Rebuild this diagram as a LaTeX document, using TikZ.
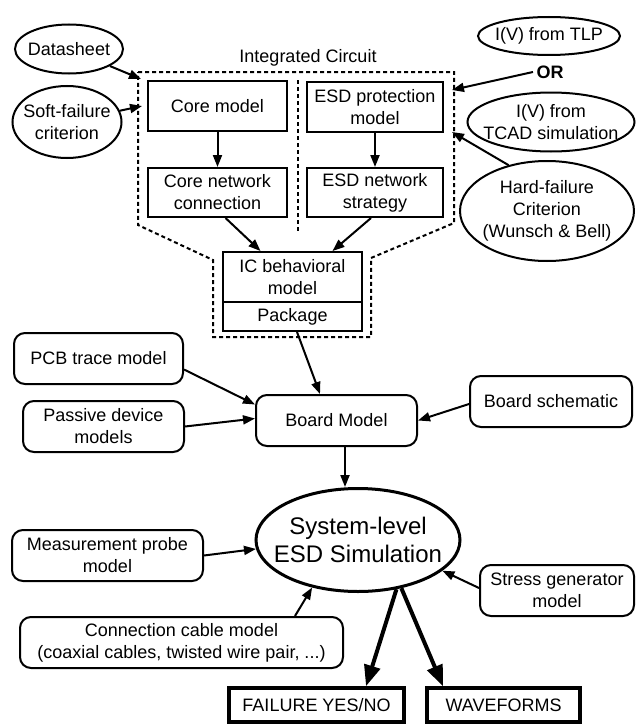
\documentclass[tikz,border=0pt]{standalone}
\usepackage{fontspec}
\setmainfont{Liberation Sans}
\usetikzlibrary{arrows.meta, shapes.geometric}

\begin{document}
\begin{tikzpicture}[x=1pt, y=-1pt,
  every node/.style = {font=\fontsize{18}{22}\selectfont, align=center},
  blk/.style = {draw, line width=2pt, inner sep=0pt},
  rblk/.style = {blk, rounded corners=11pt},
  oblk/.style = {draw, ellipse, line width=2pt, inner xsep=-18pt, inner ysep=-4pt},
  res/.style = {draw, line width=3.5pt, inner sep=0pt, minimum height=34pt},
  arr/.style = {-{Triangle[length=12pt, width=9pt]}, line width=2pt},
  bigarr/.style = {-{Triangle[length=21pt, width=16pt]}, line width=4pt},
  icline/.style = {line width=2pt, dash pattern=on 4pt off 3pt}]
\useasboundingbox (0,0) rectangle (637,725);

% integrated circuit
\node (iclabel) at (308,58) {Integrated Circuit};
\draw[icline] (138,72) -- (454,72) -- (454,223) -- (371,258) -- (371,337)
  -- (213,337) -- (213,260) -- (138,225) -- cycle;
\draw[icline] (298,80) -- (298,233);
\node[blk, minimum width=139pt, minimum height=50pt] (coremodel) at (217.5,106) {Core model};
\node[blk, minimum width=139pt, minimum height=49pt] (corenet) at (217.5,192.5) {Core network\\connection};
\node[blk, minimum width=136pt, minimum height=50pt] (esdprot) at (375,107) {ESD protection\\model};
\node[blk, minimum width=136pt, minimum height=49pt] (esdnet) at (375,192.5) {ESD network\\strategy};
\node[blk, minimum width=139pt, minimum height=50pt] (icmodel) at (292.5,277) {IC behavioral\\model};
\node[blk, minimum width=139pt, minimum height=29pt] (package) at (292.5,316.5) {Package};
\coordinate (icin1) at (141,79);
\coordinate (icin2) at (142,106);
\coordinate (icin3) at (452,90);
\coordinate (icin4) at (452,132);

% inputs of the IC
\node[oblk, minimum width=108pt, minimum height=49pt] (datasheet) at (69,49) {Datasheet};
\node[oblk, minimum width=109pt, minimum height=72pt] (softfail) at (67,122) {Soft-failure\\criterion};
\node[oblk, minimum width=142pt, minimum height=38pt] (tlp) at (549,36) {I(V) from TLP};
\node[font=\fontsize{18}{22}\selectfont\bfseries] (orlabel) at (550,72) {OR};
\node[oblk, minimum width=167pt, minimum height=59pt] (tcad) at (551,122) {I(V) from\\TCAD simulation};
\node[oblk, minimum width=174pt, minimum height=100pt] (hardfail) at (547,211) {Hard-failure\\Criterion\\(Wunsch \& Bell)};

% board
\node[rblk, minimum width=169pt, minimum height=51pt] (pcb) at (98.5,358.5) {PCB trace model};
\node[rblk, minimum width=161pt, minimum height=51pt] (passive) at (103.5,426.5) {Passive device\\models};
\node[rblk, minimum width=161pt, minimum height=51pt] (board) at (336.5,420.5) {Board Model};
\node[rblk, minimum width=162pt, minimum height=51pt] (schematic) at (551,401.5) {Board schematic};

% simulation
\node[draw, ellipse, line width=3pt, inner xsep=-18pt, minimum width=204pt, minimum height=103pt,
  font=\fontsize{24}{28}\selectfont] (sim) at (358,540) {System-level\\ESD Simulation};
\node[rblk, minimum width=191pt, minimum height=51pt] (probe) at (107.5,555.5) {Measurement probe\\model};
\node[rblk, minimum width=323pt, minimum height=51pt] (cable) at (181.5,642.5) {Connection cable model\\(coaxial cables, twisted wire pair, ...)};
\node[rblk, minimum width=154pt, minimum height=51pt] (stress) at (557,590.5) {Stress generator\\model};
\node[res, minimum width=175pt] (failure) at (316.5,705) {FAILURE YES/NO};
\node[res, minimum width=153pt] (waveforms) at (503.5,705) {WAVEFORMS};

\draw[arr] (datasheet) -- (icin1);
\draw[arr] (softfail) -- (icin2);
\draw[arr] (orlabel.west) -- (icin3);
\draw[arr] (hardfail.130) -- (icin4);
\draw[arr] (coremodel) -- (corenet);
\draw[arr] (esdprot) -- (esdnet);
\draw[arr] ([xshift=8pt]corenet.south) -- ([xshift=-32pt]icmodel.north);
\draw[arr] ([xshift=-4pt]esdnet.south) -- ([xshift=40pt]icmodel.north);
\draw[arr] ([xshift=4.5pt]package.south) -- ([xshift=-16.5pt]board.north);
\draw[arr] ([yshift=-11pt]pcb.east) -- ([yshift=16pt]board.west);
\draw[arr] (passive.east) -- ([yshift=2pt]board.west);
\draw[arr] ([yshift=-2.5pt]schematic.west) -- (board.east);
\draw[arr] ([xshift=8.5pt]board.south) -- ([xshift=-13pt]sim.north);
\draw[arr] (probe.east) -- (sim.185);
\draw[arr] ([xshift=113.5pt]cable.north) -- (sim.226);
\draw[arr] ([yshift=2.5pt]stress.west) -- (sim.340);
\draw[bigarr] (sim.308) -- ([xshift=49.5pt]failure.north);
\draw[bigarr] (sim.312) -- ([xshift=-60.5pt]waveforms.north);
\end{tikzpicture}
\end{document}
